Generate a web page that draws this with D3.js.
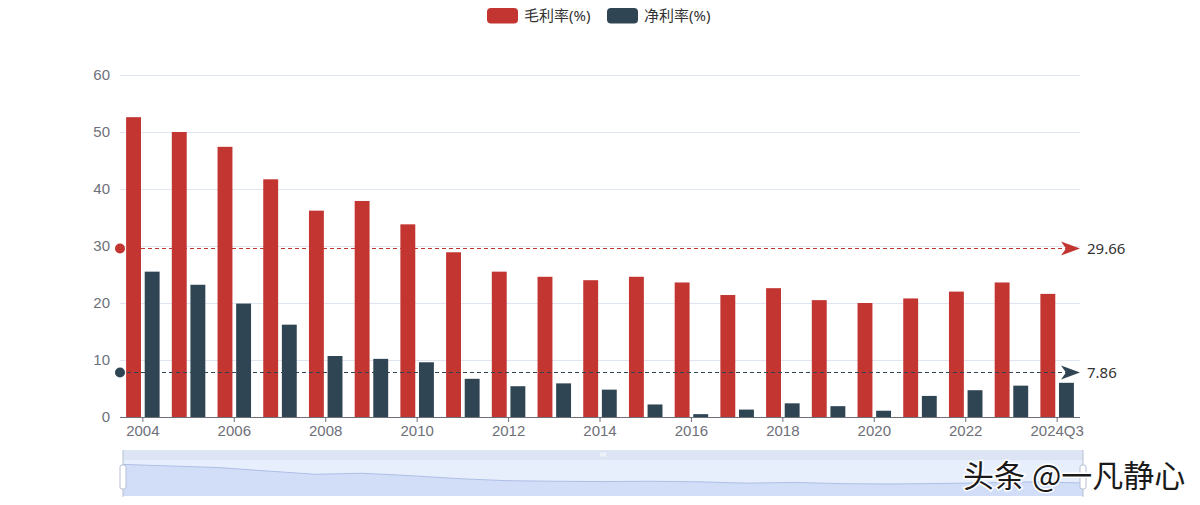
<!DOCTYPE html>
<html>
<head>
<meta charset="utf-8">
<script src="https://cdn.jsdelivr.net/npm/d3@7"></script>
<style>
  html, body { margin: 0; padding: 0; background: #fff; }
  svg { display: block; font-family: "Noto Sans", "Noto Sans CJK SC", sans-serif; }
</style>
</head>
<body>
<svg id="chart" width="1200" height="505"></svg>
<script>
const width = 1200;
const height = 505;

// data
const years = ["2004", "2005", "2006", "2007", "2008", "2009", "2010", "2011", "2012", "2013",
  "2014", "2015", "2016", "2017", "2018", "2019", "2020", "2021", "2022", "2023", "2024Q3"];
const grossMargin = [52.6, 50.0, 47.4, 41.7, 36.2, 37.9, 33.8, 28.9, 25.5, 24.6,
  24.0, 24.6, 23.6, 21.4, 22.6, 20.5, 20.0, 20.8, 22.0, 23.6, 21.6];
const netMargin = [25.5, 23.2, 19.9, 16.2, 10.7, 10.2, 9.6, 6.7, 5.4, 5.9,
  4.8, 2.2, 0.5, 1.3, 2.4, 1.9, 1.1, 3.7, 4.7, 5.5, 6.0];
const seriesNames = ["毛利率(%)", "净利率(%)"];
const colors = ["#c23531", "#2f4554"];
const averages = [29.66, 7.86];
const yTicks = [0, 10, 20, 30, 40, 50, 60];

const series = [grossMargin, netMargin];

const margin = { top: 75, right: 120, bottom: 88, left: 120 };
const plotW = width - margin.left - margin.right;   // 960
const plotH = height - margin.top - margin.bottom;  // 342

const svg = d3.select("#chart");

const x = d3.scaleBand()
  .domain(years)
  .range([margin.left, margin.left + plotW])
  .paddingInner(0.267)
  .paddingOuter(0.1335);

const xSub = d3.scaleBand()
  .domain([0, 1])
  .range([0, x.bandwidth()])
  .paddingInner(0.2);

const y = d3.scaleLinear()
  .domain([0, 60])
  .range([margin.top + plotH, margin.top]);

// grid
svg.append("g")
  .selectAll("line")
  .data(yTicks.slice(1))
  .join("line")
  .attr("x1", margin.left)
  .attr("x2", margin.left + plotW)
  .attr("y1", d => y(d) + 0.5)
  .attr("y2", d => y(d) + 0.5)
  .attr("stroke", "#e0e6f1")
  .attr("stroke-width", 1);

// y axis labels
const yAxis = d3.axisLeft(y).tickValues(yTicks).tickSize(0).tickPadding(10);
svg.append("g")
  .attr("transform", `translate(${margin.left},0)`)
  .call(yAxis)
  .call(g => g.select(".domain").remove())
  .call(g => g.selectAll("text")
    .attr("fill", "#6e7079")
    .style("font-size", "15px"));

// bars
const groups = svg.append("g")
  .selectAll("g")
  .data(series)
  .join("g")
  .attr("fill", (d, i) => colors[i]);

groups.selectAll("rect")
  .data((d, i) => d.map((v, j) => ({ v, year: years[j], s: i })))
  .join("rect")
  .attr("x", d => x(d.year) + xSub(d.s))
  .attr("y", d => y(d.v))
  .attr("width", xSub.bandwidth())
  .attr("height", d => y(0) - y(d.v));

// x axis
const labelYears = years.filter((d, i) => i % 2 === 0);
const xAxis = d3.axisBottom(x).tickValues(labelYears).tickSize(5).tickPadding(3);
svg.append("g")
  .attr("transform", `translate(0,${y(0)})`)
  .call(xAxis)
  .call(g => g.select(".domain")
    .attr("d", `M${margin.left},0.5H${margin.left + plotW}`)
    .attr("stroke", "#6e7079"))
  .call(g => g.selectAll(".tick line").attr("stroke", "#6e7079"))
  .call(g => g.selectAll("text")
    .attr("fill", "#6e7079")
    .style("font-size", "15px"));

// average mark lines
const marks = svg.append("g")
  .selectAll("g")
  .data(averages)
  .join("g")
  .attr("transform", d => `translate(0,${Math.round(y(d)) + 0.5})`);

marks.append("line")
  .attr("x1", margin.left)
  .attr("x2", margin.left + plotW - 8)
  .attr("stroke", (d, i) => colors[i])
  .attr("stroke-width", 1)
  .attr("stroke-dasharray", "4,3");

marks.append("circle")
  .attr("cx", margin.left)
  .attr("r", 5)
  .attr("fill", (d, i) => colors[i]);

const ax = margin.left + plotW;
marks.append("path")
  .attr("d", `M${ax},0L${ax - 19},-7L${ax - 14},0L${ax - 19},7Z`)
  .attr("fill", (d, i) => colors[i]);

marks.append("text")
  .attr("x", ax + 7)
  .attr("dy", "0.35em")
  .attr("fill", "#333")
  .style("font-size", "15px")
  .text(d => d.toFixed(2));

// legend
const legend = svg.append("g")
  .selectAll("g")
  .data(seriesNames)
  .join("g")
  .attr("transform", (d, i) => `translate(${487 + i * 120},8)`);

legend.append("rect")
  .attr("width", 31)
  .attr("height", 15.5)
  .attr("rx", 4)
  .attr("fill", (d, i) => colors[i]);

legend.append("text")
  .attr("x", 37)
  .attr("y", 8)
  .attr("dy", "0.35em")
  .attr("fill", "#333")
  .style("font-size", "15px")
  .text(d => d);

// data zoom slider
const zx0 = 123, zx1 = 1083, zTop = 450, zBand = 460, zBottom = 496;
const zoomG = svg.append("g");
zoomG.append("rect")
  .attr("x", zx0).attr("y", zTop)
  .attr("width", zx1 - zx0).attr("height", zBand - zTop)
  .attr("fill", "#dde4f3");
zoomG.append("rect")
  .attr("x", zx0).attr("y", zBand)
  .attr("width", zx1 - zx0).attr("height", zBottom - zBand)
  .attr("fill", "#e8effc");

const sx = d3.scalePoint().domain(years).range([zx0, zx1]);
const sy = d3.scaleLinear().domain([0, 60]).range([zBottom, zBand]);
const shadow = d3.area()
  .x((d, i) => sx(years[i]))
  .y0(zBottom)
  .y1(d => sy(d));
zoomG.append("path")
  .datum(grossMargin)
  .attr("d", shadow)
  .attr("fill", "#d2def8");
zoomG.append("path")
  .datum(grossMargin)
  .attr("d", d3.line().x((d, i) => sx(years[i])).y(d => sy(d)))
  .attr("fill", "none")
  .attr("stroke", "#aebfe6")
  .attr("stroke-width", 1);

// small grip in the top band
zoomG.append("g")
  .selectAll("line")
  .data([-2, 0, 2])
  .join("line")
  .attr("x1", d => 603 + d).attr("x2", d => 603 + d)
  .attr("y1", 452.5).attr("y2", 456.5)
  .attr("stroke", "#fff")
  .attr("stroke-width", 1);

// handles
const handles = zoomG.append("g")
  .selectAll("g")
  .data([zx0, zx1])
  .join("g")
  .attr("transform", d => `translate(${d},0)`);
handles.append("line")
  .attr("y1", zTop).attr("y2", zBottom + 1)
  .attr("stroke", "#b6bfd2")
  .attr("stroke-width", 1);
handles.append("rect")
  .attr("x", -3).attr("y", 465)
  .attr("width", 6).attr("height", 24)
  .attr("rx", 2)
  .attr("fill", "#fff")
  .attr("stroke", "#b6bfd2")
  .attr("stroke-width", 1);

// watermark
svg.append("text")
  .attr("x", 963)
  .attr("y", 487)
  .attr("fill", "#1a1a1a")
  .attr("stroke", "#fff")
  .attr("stroke-width", 3)
  .attr("paint-order", "stroke")
  .style("font-family", "'Noto Sans CJK SC', sans-serif")
  .style("font-size", "31px")
  .text("头条 @一凡静心");
</script>
</body>
</html>
